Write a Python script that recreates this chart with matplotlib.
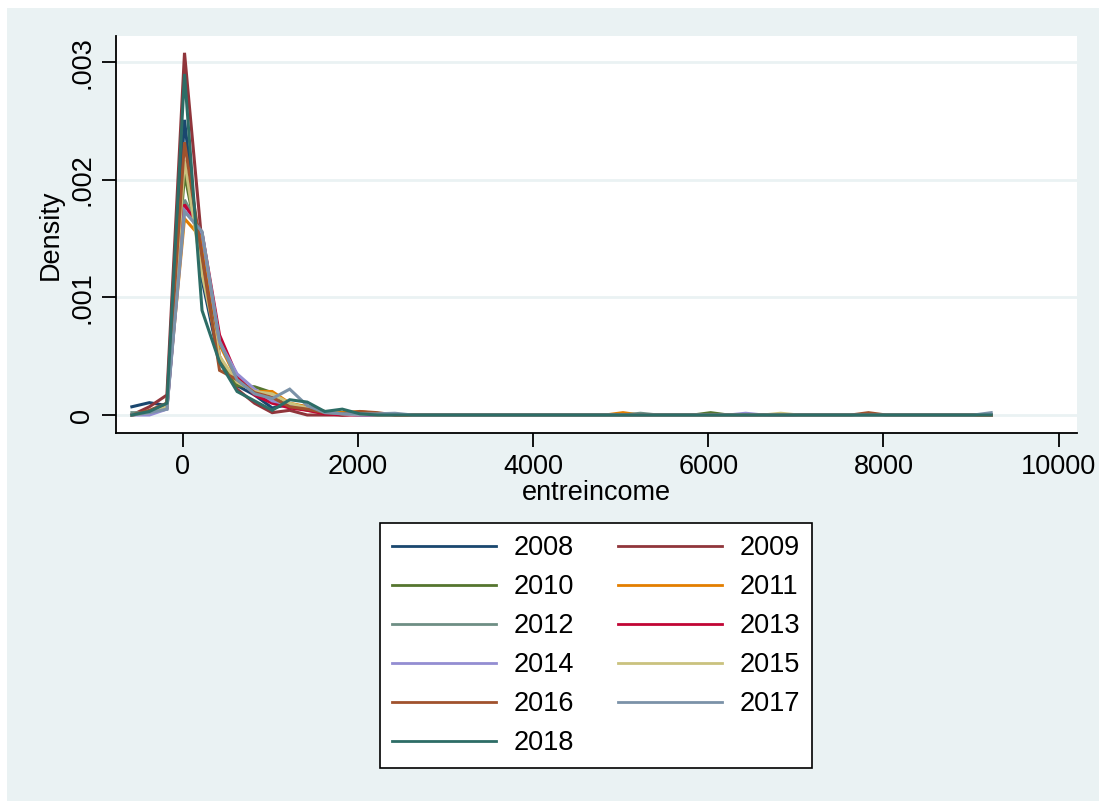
import matplotlib.pyplot as plt
import matplotlib.patches as mpatches

# kernel density of entreincome by year (values in units of 0.001)
x_grid = [-580, -380, -180, 21, 221, 421, 621, 821, 1022, 1222,
          1422, 1622, 1822, 2023, 2223, 2423, 2623, 2823, 3024, 3224,
          3424, 3624, 3824, 4025, 4225, 4425, 4625, 4825, 5026, 5226,
          5426, 5626, 5826, 6027, 6227, 6427, 6627, 6827, 7028, 7228,
          7428, 7628, 7828, 8029, 8229, 8429, 8629, 8829, 9030, 9230]

d2008 = [0.07, 0.105, 0.08, 2.51, 1.15, 0.45, 0.25, 0.17, 0.06, 0.09,
         0.07, 0.02, 0.02, 0.01, 0.005, 0, 0, 0, 0, 0,
         0, 0, 0, 0, 0, 0, 0, 0, 0, 0,
         0, 0, 0, 0, 0, 0, 0, 0, 0, 0,
         0, 0, 0, 0, 0, 0, 0, 0, 0, 0]
d2009 = [0, 0.07, 0.17, 3.08, 1.45, 0.5, 0.22, 0.1, 0.02, 0.04,
         0, 0, 0, 0.01, 0, 0, 0, 0, 0, 0,
         0, 0, 0, 0, 0, 0, 0, 0, 0, 0,
         0, 0, 0, 0, 0, 0, 0, 0, 0, 0,
         0, 0, 0, 0, 0, 0, 0, 0, 0, 0]
d2010 = [0, 0.03, 0.08, 2.05, 1.3, 0.45, 0.25, 0.24, 0.19, 0.08,
         0.04, 0.02, 0, 0.01, 0, 0, 0, 0, 0, 0,
         0, 0, 0, 0, 0, 0, 0, 0, 0, 0,
         0, 0, 0, 0.02, 0, 0, 0, 0, 0, 0,
         0, 0, 0, 0, 0, 0, 0, 0, 0, 0]
d2011 = [0, 0.02, 0.1, 1.67, 1.5, 0.6, 0.3, 0.2, 0.2, 0.1,
         0.07, 0.03, 0.02, 0.03, 0.01, 0, 0, 0, 0, 0,
         0, 0, 0, 0, 0, 0, 0, 0, 0.02, 0,
         0, 0, 0, 0, 0, 0, 0, 0, 0, 0,
         0, 0, 0, 0, 0, 0, 0, 0, 0, 0]
d2012 = [0.02, 0.02, 0.05, 1.83, 1.55, 0.62, 0.32, 0.18, 0.12, 0.08,
         0.05, 0.02, 0.01, 0, 0, 0, 0, 0, 0, 0,
         0, 0, 0, 0, 0, 0, 0, 0, 0, 0.015,
         0, 0, 0, 0, 0, 0, 0, 0, 0, 0,
         0, 0, 0, 0, 0, 0, 0, 0, 0, 0]
d2013 = [0, 0.02, 0.06, 1.79, 1.55, 0.68, 0.33, 0.17, 0.1, 0.06,
         0.04, 0.01, 0, 0, 0, 0, 0, 0, 0, 0,
         0, 0, 0, 0, 0, 0, 0, 0, 0, 0,
         0, 0, 0, 0, 0, 0, 0, 0, 0, 0,
         0, 0, 0, 0, 0, 0, 0, 0, 0, 0]
d2014 = [0, 0, 0.05, 1.74, 1.55, 0.62, 0.35, 0.22, 0.12, 0.09,
         0.06, 0.03, 0.01, 0, 0, 0, 0, 0, 0, 0,
         0, 0, 0, 0, 0, 0, 0, 0, 0, 0,
         0, 0, 0, 0, 0, 0.015, 0, 0, 0, 0,
         0, 0, 0, 0, 0, 0, 0, 0, 0, 0]
d2015 = [0, 0.02, 0.07, 2.17, 1.2, 0.5, 0.28, 0.2, 0.18, 0.1,
         0.06, 0.03, 0.01, 0.01, 0, 0, 0, 0, 0, 0,
         0, 0, 0, 0, 0, 0, 0, 0, 0, 0,
         0, 0, 0, 0, 0, 0, 0, 0.015, 0, 0,
         0, 0, 0, 0, 0, 0, 0, 0, 0, 0]
d2016 = [0, 0.04, 0.1, 2.32, 1.35, 0.38, 0.3, 0.19, 0.15, 0.07,
         0.05, 0.02, 0.01, 0.03, 0.02, 0, 0, 0, 0, 0,
         0, 0, 0, 0, 0, 0, 0, 0, 0, 0,
         0, 0, 0, 0, 0, 0, 0, 0, 0, 0,
         0, 0, 0.02, 0, 0, 0, 0, 0, 0, 0]
d2017 = [0, 0.02, 0.05, 1.73, 1.56, 0.63, 0.3, 0.18, 0.14, 0.22,
         0.08, 0.02, 0.01, 0.01, 0.01, 0.015, 0, 0, 0, 0,
         0, 0, 0, 0, 0, 0, 0, 0, 0, 0,
         0, 0, 0, 0, 0, 0, 0, 0, 0, 0,
         0, 0, 0, 0, 0, 0, 0, 0, 0, 0.02]
d2018 = [0, 0.03, 0.1, 2.9, 0.89, 0.45, 0.2, 0.12, 0.04, 0.13,
         0.11, 0.03, 0.05, 0.01, 0, 0, 0, 0, 0, 0,
         0, 0, 0, 0, 0, 0, 0, 0, 0, 0,
         0, 0, 0, 0, 0, 0, 0, 0, 0, 0,
         0, 0, 0, 0, 0, 0, 0, 0, 0, 0]

years = ['2008', '2009', '2010', '2011', '2012', '2013',
         '2014', '2015', '2016', '2017', '2018']
series = [d2008, d2009, d2010, d2011, d2012, d2013,
          d2014, d2015, d2016, d2017, d2018]
# Stata s2color palette
colors = ['#1a476f', '#90353b', '#55752f', '#e37e00', '#6e8e84', '#c10534',
          '#938dd2', '#cac27e', '#a0522d', '#7b92a8', '#2d6d66']

bg = '#eaf2f3'
fs = 19.5
plt.rcParams['font.family'] = ['Liberation Sans', 'DejaVu Sans']

fig = plt.figure(figsize=(10.99, 8.01), dpi=100)
fig.patch.set_facecolor('white')
fig.patches.append(mpatches.Rectangle((7 / 1099, 0), 1, 1 - 8 / 801,
                                      transform=fig.transFigure,
                                      facecolor=bg, edgecolor='none', zorder=-10))

ax = fig.add_axes([116 / 1099, 1 - 433 / 801, (1077 - 116) / 1099, (433 - 36) / 801])
ax.set_facecolor('white')

lines = {}
for yr, d, c in zip(years, series, colors):
    lines[yr], = ax.plot(x_grid, [v / 1000 for v in d], color=c, lw=2.2,
                         solid_joinstyle='miter', label=yr)

ax.set_xlim(-761, 10209)
ax.set_ylim(-0.000153, 0.003223)
ax.set_xticks([0, 2000, 4000, 6000, 8000, 10000])
ax.set_yticks([0, 0.001, 0.002, 0.003])
ax.set_yticklabels(['0', '.001', '.002', '.003'], rotation=90, va='center')
ax.tick_params(labelsize=fs, length=10, width=1.3, direction='out', pad=5)
ax.yaxis.grid(True, color=bg, lw=2)
ax.set_axisbelow(True)
for s in ['top', 'right']:
    ax.spines[s].set_visible(False)
for s in ['left', 'bottom']:
    ax.spines[s].set_linewidth(1.3)

ax.set_xlabel('entreincome', fontsize=fs, labelpad=0)
ax.set_ylabel('Density', fontsize=fs, labelpad=4)

# legend filled row-wise like Stata
order = ['2008', '2010', '2012', '2014', '2016', '2018',
         '2009', '2011', '2013', '2015', '2017']
leg = fig.legend([lines[y] for y in order], order, ncol=2,
                 loc='upper left', bbox_to_anchor=(380 / 1099, 1 - 523 / 801),
                 fontsize=fs, frameon=True, fancybox=False, edgecolor='black',
                 framealpha=1, handlelength=3.85, handletextpad=0.64,
                 columnspacing=1.6, labelspacing=0.48, borderpad=0.45,
                 borderaxespad=0)
leg.get_frame().set_linewidth(1.2)
for h in leg.get_lines():
    h.set_linewidth(2.0)

fig.savefig('out.png', dpi=100, facecolor=fig.get_facecolor())
